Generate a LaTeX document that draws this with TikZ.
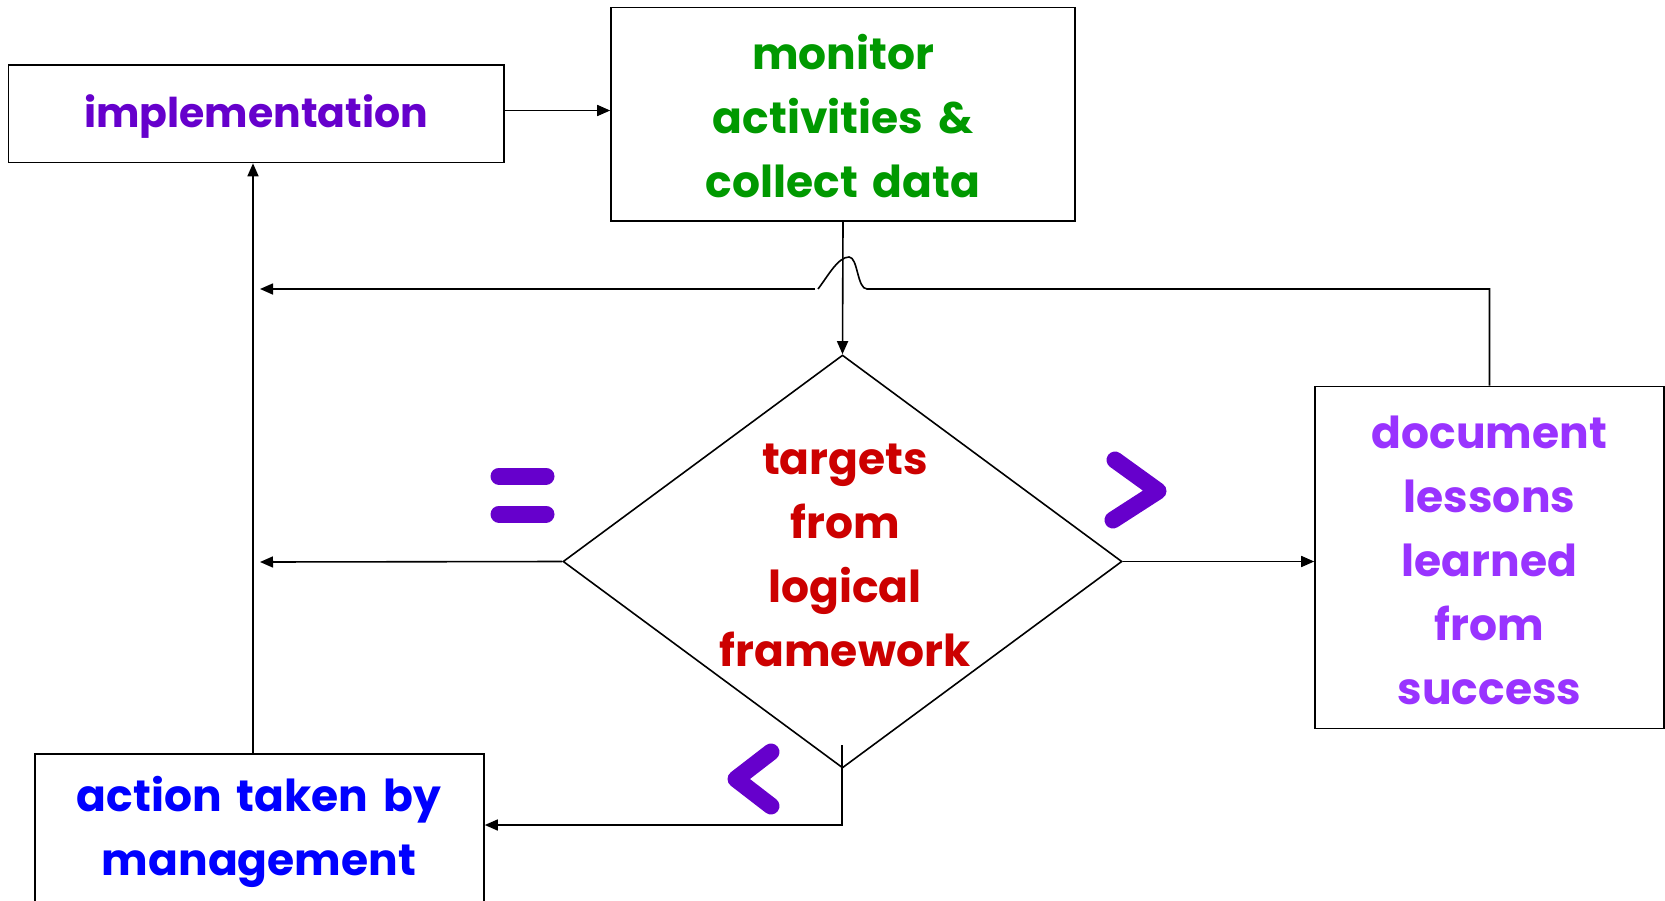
\documentclass[tikz,border=0pt]{standalone}
\usepackage{fontspec}
\setmainfont{Poppins}[WordSpace={1.6}]
\usetikzlibrary{shapes.geometric,arrows.meta}
\definecolor{cimpl}{HTML}{6600CC}
\definecolor{cmon}{HTML}{009900}
\definecolor{ctar}{HTML}{CC0000}
\definecolor{cdoc}{HTML}{9933FF}
\definecolor{cact}{HTML}{0000FF}
\definecolor{csym}{HTML}{6600CC}
\tikzset{
  box/.style={draw=black, line width=1.6pt, inner sep=0pt, align=center},
  lbl/.style={font=\fontsize{44}{64}\selectfont\bfseries, align=center, inner sep=0pt},
  conn/.style={draw=black, line width=1.6pt},
  arr/.style={conn, -{Triangle[length=13pt,width=11pt]}},
  sym/.style={draw=csym, line width=17pt, line cap=round, line join=round},
}
\begin{document}
\begin{tikzpicture}[x=1pt,y=-1pt]
\useasboundingbox (0,0) rectangle (1665,900);
% boxes
\node[box, minimum width=495.5pt, minimum height=97.5pt] (impl) at (256.25,113.75) {};
\node[lbl, text=cimpl, font=\fontsize{41}{64}\selectfont\bfseries] (implt) at (256,117) {implementation};
\node[box, minimum width=464pt, minimum height=213.6pt] (mon) at (843,114.2) {};
\node[lbl, text=cmon] (mont) at (843,116) {monitor\\activities \&\\collect data};
\node[diamond, draw=black, line width=1.6pt, minimum width=559pt, minimum height=413pt, inner sep=0pt] (dia) at (842.5,561.5) {};
\node[lbl, text=ctar] (diat) at (845,555) {targets\\from\\logical\\framework};
\node[box, minimum width=349pt, minimum height=342pt] (doc) at (1489.5,557.5) {};
\node[lbl, text=cdoc] (doct) at (1489.5,560) {document\\lessons\\learned\\from\\success};
\node[box, minimum width=449pt, minimum height=200pt] (act) at (259.5,854) {};
\node[lbl, text=cact] (actt) at (259,832) {action taken by\\management};
% coordinates
\coordinate (vx) at (253,0);
\coordinate (topy) at (0,289);
\coordinate (tipA) at (260,289);
\coordinate (tipB) at (260,562);
\coordinate (hopR) at (867,289);
\coordinate (hopL) at (818,289);
\coordinate (lineL) at (815,289);
\coordinate (botS) at (842,745);
\coordinate (botC) at (842,825);
% connectors
\draw[arr] (impl.east |- 0,110.5) -- (mon.west |- 0,110.5);
\draw[arr] (mon.south) -- (dia.north);
\draw[arr] (act.north -| vx) -- (impl.south -| vx);
\draw[conn] (doc.north) -- (doc.north |- topy) -- (hopR)
  .. controls (857,289) and (858,257) .. (849,257)
  .. controls (838,257) and (828,276) .. (hopL);
\draw[arr] (lineL) -- (tipA);
\draw[arr] (dia.west) -- (tipB);
\draw[arr] (dia.east) -- (doc.west |- dia.east);
\draw[arr] (botS) -- (botC) -- (act.east |- botC);
% symbols
\draw[sym] (499,476) -- (546,476) (499,514) -- (546,514);
\draw[sym] (1115,460) -- (1158,491) -- (1113,520);
\draw[sym] (771,752) -- (736,779) -- (771,806);
\end{tikzpicture}
\end{document}
